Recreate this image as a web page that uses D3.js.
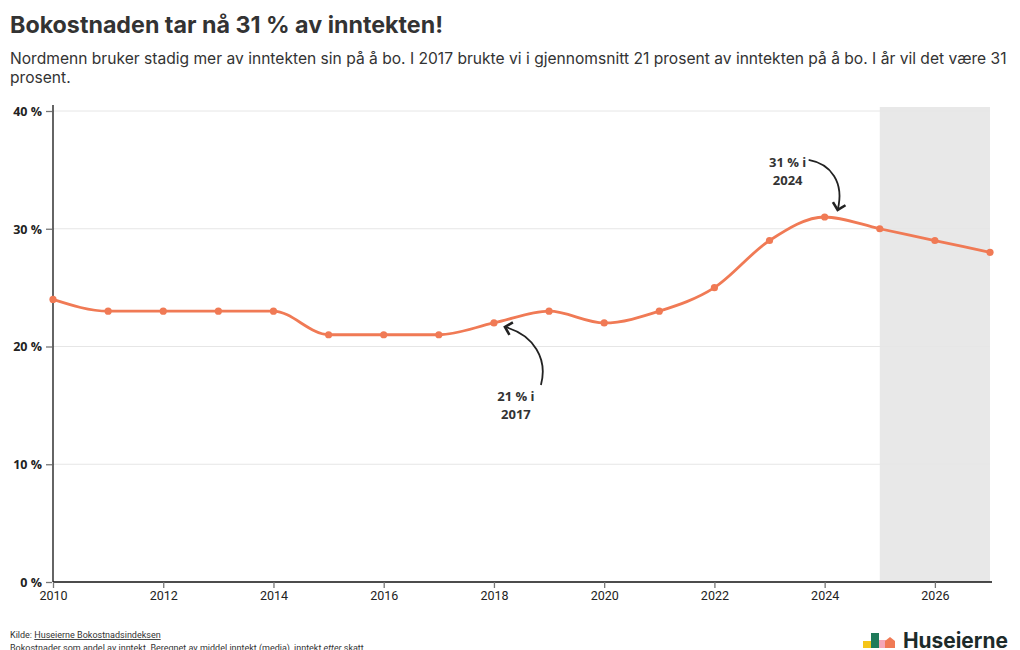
<!DOCTYPE html>
<html><head><meta charset="utf-8">
<script src="https://cdn.jsdelivr.net/npm/d3@7"></script>
<style>
body{margin:0;background:#fff;font-family:Roboto,"Noto Sans",sans-serif;}
svg{display:block}
</style></head>
<body>
<svg id="c" width="1020" height="650"></svg>
<script>
const years = [2010,2011,2012,2013,2014,2015,2016,2017,2018,2019,2020,2021,2022,2023,2024,2025,2026,2027];
const shares = [24,23,23,23,23,21,21,21,22,23,22,23,25,29,31,30,29,28];
const yTicks = [0,10,20,30,40];
const xTicks = [2010,2012,2014,2016,2018,2020,2022,2024,2026];
const forecastStart = 2025, forecastEnd = 2027;
const title = "Bokostnaden tar nå 31 % av inntekten!";
const subtitleLines = ["Nordmenn bruker stadig mer av inntekten sin på å bo. I 2017 brukte vi i gjennomsnitt 21 prosent av inntekten på å bo. I år vil det være 31","prosent."];
const annotations = [
  {lines:["21 % i","2017"], x:2018, y:22},
  {lines:["31 % i","2024"], x:2024, y:31}
];

const svg = d3.select("#c");
const m = {l:53, r:990, t:111, b:582};
const x = d3.scaleLinear().domain([2010,2027]).range([m.l,m.r]);
const y = d3.scaleLinear().domain([0,40]).range([m.b,m.t]);
const data = years.map((d,i)=>({year:d,v:shares[i]}));

function fitText(sel, w){ // shrink/stretch font to target width
  const bw = sel.node().getComputedTextLength();
  const fs = parseFloat(sel.attr("font-size"));
  sel.attr("font-size", fs*w/bw);
}

const tt = svg.append("text").attr("x",10).attr("y",33).attr("font-size",21).attr("font-weight",700)
  .attr("fill","#333").attr("font-family","Inter").text(title);
fitText(tt, 433);
const st = svg.append("g").selectAll("text").data(subtitleLines).join("text")
  .attr("x",10).attr("y",(d,i)=>64+i*19).attr("font-size",15.5).attr("fill","#333")
  .attr("font-family","Inter").text(d=>d);
{
  const first = d3.select(st.nodes()[0]);
  const bw = first.node().getComputedTextLength();
  const fs = 15.5*997/bw;
  st.attr("font-size",fs);
}

// forecast shade
svg.append("rect").attr("x",x(forecastStart)).attr("y",107)
  .attr("width",x(forecastEnd)-x(forecastStart)).attr("height",m.b-107).attr("fill","#e8e8e8");

// grid
svg.append("g").selectAll("line").data(yTicks.filter(d=>d>0)).join("line")
  .attr("x1",m.l).attr("x2",m.r).attr("y1",d=>y(d)).attr("y2",d=>y(d))
  .attr("stroke","#e6e6e6").attr("stroke-width",1);

// y axis
const ya = svg.append("g").attr("transform",`translate(${m.l},0)`)
  .call(d3.axisLeft(y).tickValues(yTicks).tickFormat(d=>d+" %").tickSize(7).tickPadding(4));
ya.select(".domain").attr("stroke","#111").attr("stroke-width",1.3).attr("d",`M0,${m.t-6}V${m.b}`);
ya.selectAll(".tick line").attr("stroke","#777").attr("stroke-width",1.3).attr("x2",-7).attr("x1",-1);
ya.selectAll(".tick text").attr("font-size",12.5).attr("font-weight",700).attr("fill","#222")
  .attr("font-family","'Open Sans',sans-serif").attr("dy","0.35em");

// x axis
const xa = svg.append("g").attr("transform",`translate(0,${m.b})`)
  .call(d3.axisBottom(x).tickValues(xTicks).tickFormat(d3.format("d")).tickSize(6).tickPadding(3));
xa.select(".domain").attr("stroke","#111").attr("stroke-width",1.5).attr("d",`M${m.l},0H${m.r+2}`);
xa.selectAll(".tick line").attr("stroke","#777").attr("stroke-width",1.3);
xa.selectAll(".tick text").attr("font-size",12.5).attr("fill","#222").attr("font-family","'Liberation Sans Narrow',Roboto,sans-serif");

// line
const line = d3.line().x(d=>x(d.year)).y(d=>y(d.v)).curve(d3.curveMonotoneX);
svg.append("path").datum(data).attr("d",line).attr("fill","none")
  .attr("stroke","#f07a55").attr("stroke-width",2.8).attr("stroke-linejoin","round");
svg.append("g").selectAll("circle").data(data).join("circle")
  .attr("cx",d=>x(d.year)).attr("cy",d=>y(d.v)).attr("r",3.6).attr("fill","#f07a55");

// annotations
const defs = svg.append("defs");
defs.append("marker").attr("id","ah").attr("viewBox","0 0 10 10").attr("refX",5).attr("refY",5)
  .attr("markerWidth",9).attr("markerHeight",9).attr("orient","auto-start-reverse")
  .append("path").attr("d","M1,1L5,5L1,9").attr("fill","none").attr("stroke","#222").attr("stroke-width",1.6);

// 2017 annotation
{
  const a = annotations[0];
  const px = x(a.x), py = y(a.y);
  svg.append("path").attr("d",`M${px+47},${py+62} C${px+54},${py+36} ${px+40},${py+12} ${px+11},${py+4}`)
    .attr("fill","none").attr("stroke","#222").attr("stroke-width",1.8).attr("marker-end","url(#ah)");
  svg.append("g").selectAll("text").data(a.lines).join("text")
    .attr("x",px+22).attr("y",(d,i)=>py+78+i*18).attr("text-anchor","middle")
    .attr("font-size",13).attr("font-weight",700).attr("fill","#333").attr("font-family","'Open Sans',sans-serif").text(d=>d);
}
// 2024 annotation
{
  const a = annotations[1];
  const px = x(a.x), py = y(a.y);
  svg.append("path").attr("d",`M${px-16},${py-57} C${px+6},${py-53} ${px+20},${py-35} ${px+13},${py-7}`)
    .attr("fill","none").attr("stroke","#222").attr("stroke-width",1.8).attr("marker-end","url(#ah)");
  svg.append("g").selectAll("text").data(a.lines).join("text")
    .attr("x",px-37).attr("y",(d,i)=>py-50+i*18).attr("text-anchor","middle")
    .attr("font-size",13).attr("font-weight",700).attr("fill","#333").attr("font-family","'Open Sans',sans-serif").text(d=>d);
}

// footer
const f = svg.append("text").attr("x",10).attr("y",638).attr("font-size",9).attr("fill","#333").attr("font-family","Roboto");
f.append("tspan").text("Kilde: ");
f.append("tspan").attr("text-decoration","underline").text("Huseierne Bokostnadsindeksen");
const f2 = svg.append("text").attr("x",10).attr("y",651).attr("font-size",9).attr("fill","#333").attr("font-family","Roboto");
f2.append("tspan").text("Bokostnader som andel av inntekt. Beregnet av middel inntekt (media), inntekt ");
f2.append("tspan").attr("font-style","italic").text("etter");
f2.append("tspan").text(" skatt");

// logo
const lg = svg.append("g").attr("transform","translate(863,632)");
lg.append("rect").attr("x",0).attr("y",9).attr("width",8).attr("height",7).attr("fill","#f5c518");
lg.append("rect").attr("x",8).attr("y",1).attr("width",8).attr("height",15).attr("fill","#1f7a5a");
lg.append("rect").attr("x",16).attr("y",8).attr("width",7).attr("height",8).attr("fill","#f4a6b8");
lg.append("path").attr("d","M22,16V9L27,5L32,9V16Z").attr("fill","#f07a55");
const lt = svg.append("text").attr("x",903).attr("y",648).attr("font-size",21).attr("font-weight",700)
  .attr("fill","#1d2b2a").attr("font-family","Inter").text("Huseierne");
fitText(lt, 105);
</script>
</body></html>
